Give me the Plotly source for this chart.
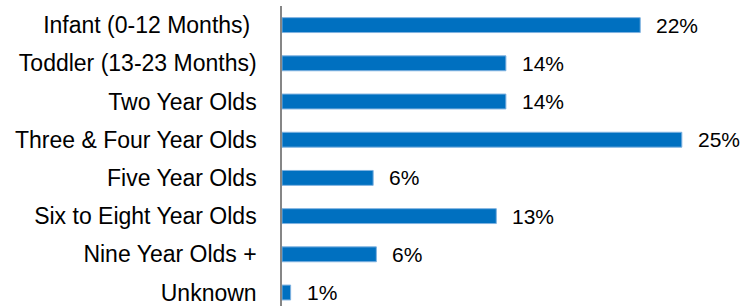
import plotly.graph_objects as go

categories = ["Infant (0-12 Months) ", "Toddler (13-23 Months)", "Two Year Olds",
              "Three & Four Year Olds", "Five Year Olds", "Six to Eight Year Olds",
              "Nine Year Olds +", "Unknown"]
values = [22.4, 14.0, 14.0, 25.0, 5.7, 13.4, 5.9, 0.54]
labels = [f"{round(v)}%" for v in values]

FONT = "'Liberation Sans', Arial, sans-serif"

fig = go.Figure()
fig.add_trace(go.Bar(
    x=values, y=categories, orientation="h", width=0.39,
    marker=dict(color="#0070C0", line=dict(color="#7FB2E0", width=1)),
    hoverinfo="skip",
))

for c, v, t in zip(categories, values, labels):
    fig.add_annotation(x=v, y=c, text=t, showarrow=False, xanchor="left",
                       xshift=14, yshift=0,
                       font=dict(family=FONT, size=21, color="#000000"))

fig.update_layout(
    width=741, height=306,
    margin=dict(l=282, r=0, t=6, b=0, autoexpand=False),
    paper_bgcolor="white", plot_bgcolor="white",
    showlegend=False,
    font=dict(family=FONT, size=23, color="#000000"),
    xaxis=dict(range=[0, 28.7], visible=False, fixedrange=True),
    yaxis=dict(range=[7.353, -0.5], showline=True, linecolor="#868686", linewidth=1.5,
               showgrid=False, ticks="outside", ticklen=19, tickcolor="rgba(0,0,0,0)",
               tickfont=dict(family=FONT, size=23, color="#000000"),
               automargin=False, fixedrange=True),
)

fig.write_html("out.html", config={"displayModeBar": False},
               post_script="document.body.style.margin='0';")
